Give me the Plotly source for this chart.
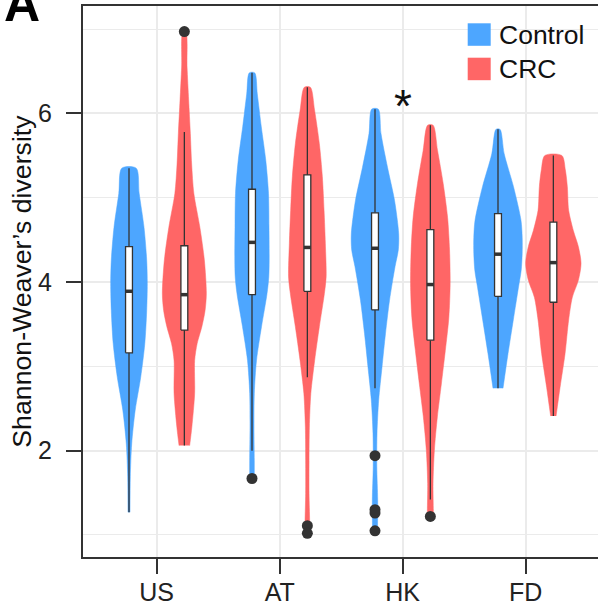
import plotly.graph_objects as go

# ---------------- data ----------------
categories = ["US", "AT", "HK", "FD"]
groups = ["Control", "CRC"]

# violin density profiles (y level, relative density = half width)
us_ctrl_y = [1.27, 1.69, 2.08, 2.48, 2.87, 3.27, 3.66, 3.98, 4.26, 4.65, 5.05, 5.35]
us_ctrl_d = [1.0, 1.3, 2.7, 6.2, 11.7, 15.8, 17.7, 18.3, 17.7, 15.0, 10.2, 7.2]
us_crc_y = [2.06, 2.28, 2.68, 3.07, 3.27, 3.47, 3.66, 3.86, 4.26, 4.65, 5.05, 5.40, 5.76, 6.16, 6.55, 6.97]
us_crc_d = [5.3, 7.5, 10.3, 10.3, 12.8, 17.5, 20.7, 22.0, 20.0, 15.5, 9.5, 7.3, 6.0, 4.3, 2.7, 1.5]
at_ctrl_y = [1.67, 1.88, 2.28, 2.68, 3.07, 3.47, 3.86, 4.06, 4.26, 4.65, 5.05, 5.44, 5.84, 6.23, 6.48]
at_ctrl_d = [2.3, 2.3, 2.0, 2.3, 4.5, 9.5, 15.0, 16.8, 17.2, 17.0, 16.5, 13.8, 9.3, 5.3, 2.7]
at_crc_y = [1.02, 1.17, 1.49, 1.88, 2.28, 2.68, 3.07, 3.47, 3.86, 4.06, 4.46, 4.85, 5.25, 5.64, 6.04, 6.31]
at_crc_d = [2.3, 2.3, 1.7, 1.7, 2.0, 3.5, 7.3, 12.0, 17.0, 18.8, 18.0, 16.7, 15.0, 12.0, 7.2, 3.0]
hk_ctrl_y = [1.05, 1.41, 1.81, 2.20, 2.60, 2.99, 3.39, 3.78, 4.18, 4.38, 4.57, 4.97, 5.36, 5.76, 6.05]
hk_ctrl_d = [2.5, 2.7, 1.8, 2.0, 3.7, 7.0, 10.5, 14.5, 20.0, 23.3, 23.7, 19.5, 12.5, 6.0, 3.3]
hk_crc_y = [1.22, 1.29, 1.61, 2.00, 2.40, 2.79, 3.19, 3.58, 3.98, 4.38, 4.77, 5.17, 5.56, 5.86]
hk_crc_d = [3.0, 3.0, 2.7, 4.0, 7.0, 11.0, 15.0, 18.5, 19.8, 19.2, 17.2, 12.8, 7.2, 2.7]
fd_ctrl_y = [2.74, 3.15, 3.55, 3.94, 4.14, 4.34, 4.53, 4.73, 5.13, 5.52, 5.81]
fd_ctrl_d = [5.0, 10.0, 15.3, 20.5, 23.2, 24.2, 24.2, 23.0, 15.5, 6.2, 2.0]
fd_crc_y = [2.41, 2.75, 3.15, 3.55, 3.82, 4.02, 4.22, 4.42, 4.61, 4.85, 5.13, 5.33, 5.50]
fd_crc_d = [2.7, 6.7, 11.7, 15.3, 19.0, 25.0, 27.7, 25.0, 20.0, 15.3, 14.0, 12.0, 8.5]

# box statistics per category, order: US, AT, HK, FD
ctrl_lower = [1.27, 2.00, 2.74, 2.74]
ctrl_q1 = [3.16, 3.85, 3.67, 3.83]
ctrl_median = [3.89, 4.47, 4.40, 4.33]
ctrl_q3 = [4.42, 5.10, 4.82, 4.81]
ctrl_upper = [5.35, 6.48, 6.05, 5.81]
ctrl_outliers = [[], [1.67], [1.94, 1.30, 1.26, 1.05], []]

crc_lower = [2.06, 2.87, 1.42, 2.41]
crc_q1 = [3.43, 3.89, 3.31, 3.76]
crc_median = [3.85, 4.41, 3.97, 4.23]
crc_q3 = [4.43, 5.27, 4.62, 4.71]
crc_upper = [5.78, 6.31, 5.86, 5.50]
crc_outliers = [[6.97], [1.11, 1.02], [1.22], []]

y_ticks = [2, 4, 6]
y_minor = [1, 3, 5, 7]
signif_category = "HK"
signif_label = "*"

# ---------------- styling ----------------
COLORS = {"Control": "#4DA6FF", "CRC": "#FF6666"}
DODGE = 0.225
DENS_SCALE = 1 / 123.0
BOX_W = 0.056
FONT = "Liberation Sans, Arial, sans-serif"
DARK = "#333333"

profiles = {
    "Control": [(us_ctrl_y, us_ctrl_d), (at_ctrl_y, at_ctrl_d), (hk_ctrl_y, hk_ctrl_d), (fd_ctrl_y, fd_ctrl_d)],
    "CRC": [(us_crc_y, us_crc_d), (at_crc_y, at_crc_d), (hk_crc_y, hk_crc_d), (fd_crc_y, fd_crc_d)],
}
stats = {
    "Control": (ctrl_lower, ctrl_q1, ctrl_median, ctrl_q3, ctrl_upper, ctrl_outliers),
    "CRC": (crc_lower, crc_q1, crc_median, crc_q3, crc_upper, crc_outliers),
}

fig = go.Figure()

# violins
for g, off in zip(groups, (-DODGE, DODGE)):
    for i, (ys, ds) in enumerate(profiles[g]):
        c = i + 1 + off
        xs = [c + d * DENS_SCALE for d in ds] + [c - d * DENS_SCALE for d in reversed(ds)]
        yy = list(ys) + list(reversed(ys))
        fig.add_trace(go.Scatter(
            x=xs, y=yy, mode="lines", fill="toself", fillcolor=COLORS[g],
            line=dict(color=COLORS[g], width=0.5, shape="spline", smoothing=0.8),
            hoverinfo="skip", showlegend=False))

# boxes (whiskers, box, median), outliers
for g, off in zip(groups, (-DODGE, DODGE)):
    lo, q1, med, q3, up, outl = stats[g]
    pos = [i + 1 + off for i in range(len(categories))]
    wx, wy = [], []
    for p, a, b, c_, d in zip(pos, lo, q1, q3, up):
        wx += [p, p, None, p, p, None]
        wy += [a, b, None, c_, d, None]
    fig.add_trace(go.Scatter(x=wx, y=wy, mode="lines", line=dict(color=DARK, width=1.3),
                             hoverinfo="skip", showlegend=False))
    for p, b, m, c_ in zip(pos, q1, med, q3):
        h = BOX_W / 2
        fig.add_trace(go.Scatter(
            x=[p - h, p + h, p + h, p - h, p - h], y=[b, b, c_, c_, b],
            mode="lines", fill="toself", fillcolor="white",
            line=dict(color=DARK, width=1.3), hoverinfo="skip", showlegend=False))
        fig.add_trace(go.Scatter(
            x=[p - h, p + h], y=[m, m], mode="lines",
            line=dict(color=DARK, width=3.5), hoverinfo="skip", showlegend=False))
    ox, oy = [], []
    for p, vals in zip(pos, outl):
        ox += [p] * len(vals)
        oy += vals
    fig.add_trace(go.Scatter(
        x=ox, y=oy, mode="markers", marker=dict(color=DARK, size=11),
        hoverinfo="skip", showlegend=False))

# significance mark
fig.add_annotation(x=categories.index(signif_category) + 1, y=6.09, xref="x", yref="y",
                   text=signif_label, showarrow=False,
                   font=dict(family=FONT, size=46, color="#111111"))

# panel letter
fig.add_annotation(x=-0.158, y=1.0035, xref="paper", yref="paper", xanchor="left", yanchor="middle",
                   text="<b>A</b>", showarrow=False,
                   font=dict(family=FONT, size=50, color="#000000"))

# y title
fig.add_annotation(x=-0.12, y=0.5, xref="paper", yref="paper", textangle=-90,
                   xanchor="center", yanchor="middle",
                   text="Shannon-Weaver’s diversity", showarrow=False,
                   font=dict(family=FONT, size=26.7, color="#111111"))

# manual legend
def px2paper_x(px):
    return (px - 83) / 515.0

def px2paper_y(py):
    return (557 - py) / 551.0

leg_tops = [23.3, 57.7]
for g, top in zip(groups, leg_tops):
    fig.add_shape(type="rect", xref="paper", yref="paper",
                  x0=px2paper_x(467.7), x1=px2paper_x(490.7),
                  y0=px2paper_y(top + 22.5), y1=px2paper_y(top),
                  fillcolor=COLORS[g], line=dict(width=0))
    fig.add_annotation(x=px2paper_x(497), y=px2paper_y(top + 11.5), xref="paper", yref="paper",
                       xanchor="left", yanchor="middle", text=g, showarrow=False,
                       font=dict(family=FONT, size=26.5, color="#111111"))

axis_common = dict(
    showline=True, linecolor=DARK, linewidth=2,
    ticks="outside", ticklen=15, tickwidth=2, tickcolor=DARK,
    showgrid=True, gridcolor="#EBEBEB", gridwidth=2, zeroline=False,
    automargin=False,
    tickfont=dict(family=FONT, size=25, color="#222222"),
)

fig.update_xaxes(range=[0.401, 4.588], tickmode="array", tickvals=[1, 2, 3, 4],
                 ticktext=categories, mirror=True, ticklabelstandoff=-3, **axis_common)
fig.update_yaxes(range=[0.739, 7.273], tickmode="array", tickvals=y_ticks,
                 ticklabelstandoff=9,
                 minor=dict(tickmode="array", tickvals=y_minor, showgrid=True,
                            gridcolor="#EBEBEB", gridwidth=1.3, ticks=""),
                 **axis_common)

fig.update_layout(
    width=598, height=606,
    margin=dict(l=83, r=0, t=6, b=49),
    plot_bgcolor="white", paper_bgcolor="white",
    showlegend=False,
)

fig.write_html("out.html", config={"displayModeBar": False},
               post_script="document.body.style.margin='0';")
